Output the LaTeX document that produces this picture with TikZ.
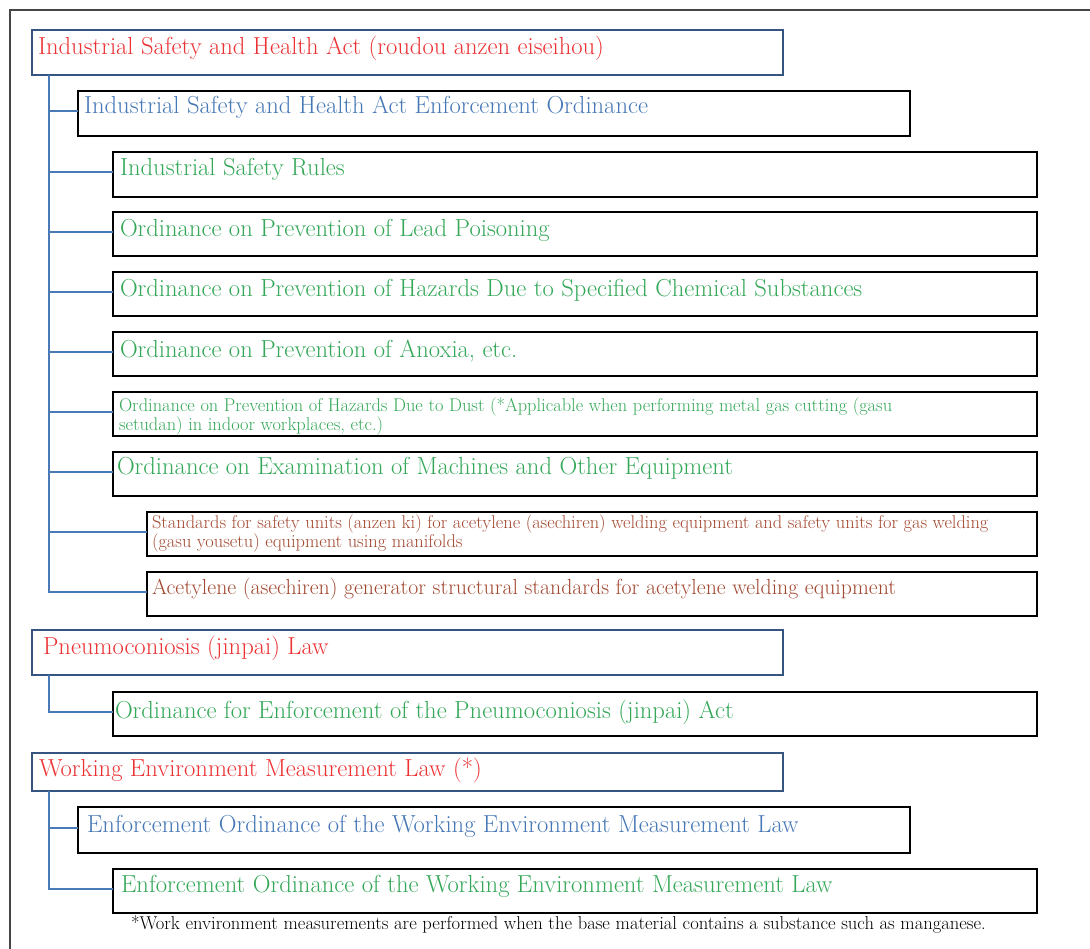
\documentclass[tikz,border=0pt]{standalone}
\usetikzlibrary{calc}
\definecolor{tred}{RGB}{236,50,52}
\definecolor{tblue}{RGB}{70,120,182}
\definecolor{tgreen}{RGB}{52,168,88}
\definecolor{tbrown}{RGB}{162,72,48}
\definecolor{rbord}{RGB}{54,84,128}
\definecolor{conncol}{RGB}{72,122,182}
\definecolor{framecol}{RGB}{70,70,70}
\begin{document}
\begin{tikzpicture}[x=1pt,y=-1pt,
  boxbase/.style={rectangle,inner sep=0pt,outer sep=0pt,anchor=north west,fill=white},
  lawbox/.style={boxbase,draw=rbord,line width=2.4pt},
  ordbox/.style={boxbase,draw=black,line width=2pt},
  txt/.style={inner sep=0pt,outer sep=0pt,anchor=base west},
  bigtxt/.style={txt,font=\fontsize{24.6}{29}\selectfont},
  midtxt/.style={txt,font=\fontsize{21.8}{26}\selectfont},
  smalltxt/.style={txt,align=left,font=\fontsize{18.4}{19}\selectfont},
  conn/.style={draw=conncol,line width=2pt},
  framestyle/.style={draw=framecol,line width=1.5pt}]
\useasboundingbox (0,0) rectangle (1090,949);
\coordinate (fa) at (10,949);
\coordinate (fb) at (10,10);
\coordinate (fc) at (1090,10);
\draw[framestyle] (fa) -- (fb) -- (fc);
\coordinate (spine) at (49,0);

% boxes
\node[lawbox,minimum width=751,minimum height=45] (b1) at (32,30) {};
\node[ordbox,minimum width=832,minimum height=45] (b2) at (78,91) {};
\node[ordbox,minimum width=924,minimum height=45] (b3) at (113,152) {};
\node[ordbox,minimum width=924,minimum height=44] (b4) at (113,212) {};
\node[ordbox,minimum width=924,minimum height=44] (b5) at (113,272) {};
\node[ordbox,minimum width=924,minimum height=44] (b6) at (113,332) {};
\node[ordbox,minimum width=924,minimum height=44] (b7) at (113,392) {};
\node[ordbox,minimum width=924,minimum height=44] (b8) at (113,452) {};
\node[ordbox,minimum width=890,minimum height=44] (b9) at (147,512) {};
\node[ordbox,minimum width=890,minimum height=44] (b10) at (147,572) {};
\node[lawbox,minimum width=751,minimum height=45] (b11) at (32,630) {};
\node[ordbox,minimum width=924,minimum height=44] (b12) at (113,692) {};
\node[lawbox,minimum width=751,minimum height=38] (b13) at (32,753) {};
\node[ordbox,minimum width=832,minimum height=46] (b14) at (78,807) {};
\node[ordbox,minimum width=924,minimum height=44] (b15) at (113,869) {};

% connectors
\foreach \k in {2,3,4,5,6,7,8,9,10}{
  \draw[conn] (b1.south -| spine) |- ([yshift=2pt]b\k.west);
}
\draw[conn] (b11.south -| spine) |- ([yshift=2pt]b12.west);
\draw[conn] (b13.south -| spine) |- ([yshift=2pt]b14.west);
\draw[conn] (b13.south -| spine) |- ([yshift=2pt]b15.west);

% texts
\node[bigtxt,text=tred] (t1) at (38,55) {Industrial Safety and Health Act (roudou anzen eiseihou)};
\node[bigtxt,text=tblue] (t2) at (84,114) {Industrial Safety and Health Act Enforcement Ordinance};
\node[bigtxt,text=tgreen] (t3) at (120,176) {Industrial Safety Rules};
\node[bigtxt,text=tgreen] (t4) at (120,237) {Ordinance on Prevention of Lead Poisoning};
\node[bigtxt,text=tgreen] (t5) at (120,297) {Ordinance on Prevention of Hazards Due to Specified Chemical Substances};
\node[bigtxt,text=tgreen] (t6) at (120,358) {Ordinance on Prevention of Anoxia, etc.};
\node[smalltxt,text=tgreen] (t7) at (119,431) {Ordinance on Prevention of Hazards Due to Dust (*Applicable when performing metal gas cutting (gasu\\setudan) in indoor workplaces, etc.)};
\node[bigtxt,text=tgreen] (t8) at (117,475) {Ordinance on Examination of Machines and Other Equipment};
\node[smalltxt,text=tbrown] (t9) at (152,547) {Standards for safety units (anzen ki) for acetylene (asechiren) welding equipment and safety units for gas welding\\(gasu yousetu) equipment using manifolds};
\node[midtxt,text=tbrown] (t10) at (152,594) {Acetylene (asechiren) generator structural standards for acetylene welding equipment};
\node[bigtxt,text=tred] (t11) at (43,654) {Pneumoconiosis (jinpai) Law};
\node[bigtxt,text=tgreen] (t12) at (115,718) {Ordinance for Enforcement of the Pneumoconiosis (jinpai) Act};
\node[bigtxt,text=tred] (t13) at (39,776) {Working Environment Measurement Law (*)};
\node[bigtxt,text=tblue] (t14) at (87,832) {Enforcement Ordinance of the Working Environment Measurement Law};
\node[bigtxt,text=tgreen] (t15) at (121,892) {Enforcement Ordinance of the Working Environment Measurement Law};
\node[txt,font=\fontsize{18.6}{22}\selectfont,text=black] (fn) at (131,929) {*Work environment measurements are performed when the base material contains a substance such as manganese.};
\end{tikzpicture}
\end{document}
